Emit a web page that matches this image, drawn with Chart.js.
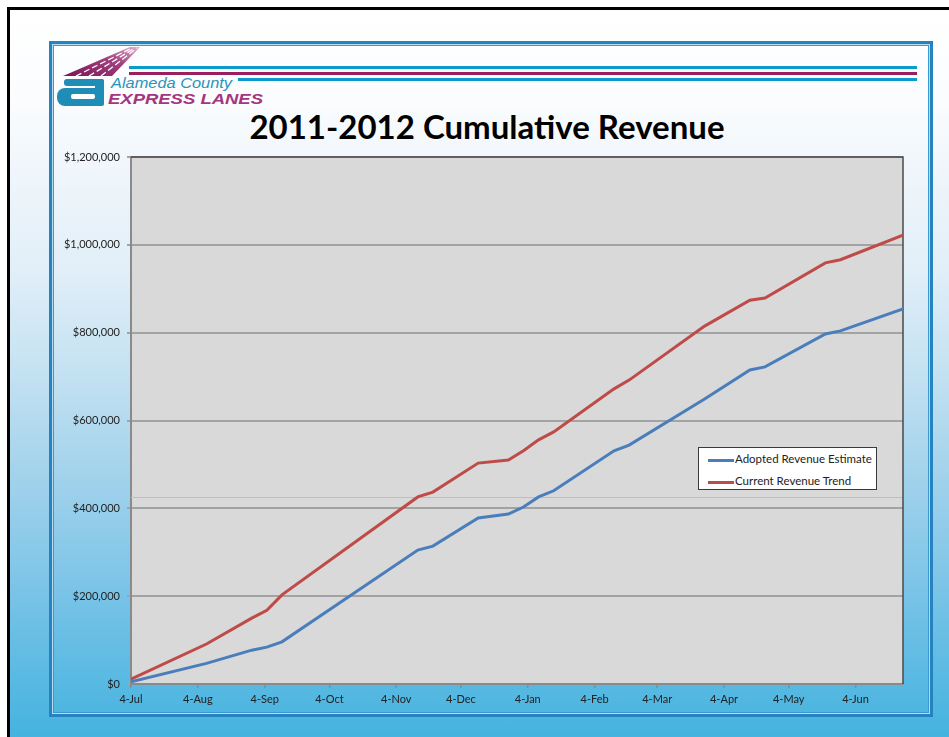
<!DOCTYPE html>
<html>
<head>
<meta charset="utf-8">
<title>2011-2012 Cumulative Revenue</title>
<script src="https://cdn.jsdelivr.net/npm/chart.js@4.4.1/dist/chart.umd.min.js"></script>
<style>
  html, body { margin: 0; padding: 0; background: #fff; }
  body { width: 949px; height: 737px; overflow: hidden; position: relative; font-family: Lato, "Open Sans", sans-serif; }
  #slide {
    position: absolute; left: 7px; top: 7px; width: 980px; height: 780px;
    border-left: 3px solid #000; border-top: 3px solid #000;
    background: linear-gradient(to bottom, #ffffff 0%, #fafcfe 12%, #f0f6fb 20%, #e2eff8 33%, #c5e2f2 46%, #a4d3ec 59%, #82c6e8 72%, #6cbfe5 79%, #3db1de 96%, #3bb0dd 100%);
  }
  #box {
    position: absolute; left: 49px; top: 41px; width: 878px; height: 670px;
    border: 3px solid #2683c0;
    box-shadow: inset 0 0 0 1px #b5dcf0, inset 0 0 0 2px #3d9ad0;
  }
  #deco { position: absolute; left: 0; top: 0; }
  #title {
    position: absolute; left: 0; top: 106px; width: 974px; text-align: center;
    font-family: Lato, sans-serif; font-weight: bold; font-size: 33px; line-height: 40px; color: #000;
  }
  #chartWrap { position: absolute; left: 50px; top: 140px; width: 874px; height: 575px; }
  #legend {
    position: absolute; left: 698px; top: 447px; width: 177px; height: 41px;
    background: #fff; border: 1px solid #3a3a3a; font-size: 11.5px; color: #222;
  }
  #legend .row { position: absolute; left: 9px; height: 14px; line-height: 14px; white-space: nowrap; }
  #legend .swatch { display: inline-block; width: 26px; height: 3px; vertical-align: middle; margin-right: 1px; }
</style>
</head>
<body>
<div id="slide"></div>
<div id="box"></div>
<svg id="deco" width="949" height="120" xmlns="http://www.w3.org/2000/svg">
  <defs>
    <linearGradient id="streak" x1="0" y1="1" x2="1" y2="0">
      <stop offset="0" stop-color="#7a1657"/>
      <stop offset="0.6" stop-color="#a3417f"/>
      <stop offset="1" stop-color="#e0b3d0"/>
    </linearGradient>
  </defs>
  <!-- header rules -->
  <rect x="129" y="66" width="788" height="3" fill="#0a9acb"/>
  <rect x="129" y="72" width="788" height="3" fill="#9a1f5f"/>
  <rect x="238" y="78" width="679" height="3" fill="#0a9acb"/>
  <!-- logo streaks -->
  <polygon points="63,76 112,76 140,47 130,47" fill="url(#streak)"/>
  <line x1="76" y1="76" x2="132" y2="48" stroke="#fff" stroke-width="1.3" stroke-dasharray="6,3"/>
  <line x1="89" y1="76" x2="135" y2="48" stroke="#fff" stroke-width="1.3" stroke-dasharray="6,3"/>
  <line x1="101" y1="76" x2="137" y2="48" stroke="#fff" stroke-width="1.3" stroke-dasharray="6,3"/>
  <!-- logo "a" -->
  <g fill="#1f8db6">
    <rect x="64" y="79" width="40" height="7" rx="3"/>
    <rect x="95" y="79" width="9" height="27" rx="2"/>
    <rect x="57" y="88" width="47" height="18" rx="8"/>
  </g>
  <rect x="71" y="94" width="24" height="5" rx="2" fill="#fff"/>
  <text x="111" y="87.5" font-family="Liberation Sans, Arial, sans-serif" font-style="italic" font-size="14" fill="#2a93bb" textLength="121" lengthAdjust="spacingAndGlyphs">Alameda County</text>
  <text x="108" y="104" font-family="Liberation Sans, Arial, sans-serif" font-style="italic" font-weight="bold" font-size="14" fill="#a4357f" textLength="155" lengthAdjust="spacingAndGlyphs">EXPRESS LANES</text>
</svg>
<div id="title">2011-2012 Cumulative Revenue</div>
<div id="chartWrap"><canvas id="revenueChart"></canvas></div>
<div id="legend"></div>
<script>
// Data (days after 4-Jul-2011, cumulative dollars)
const pointDays = [0, 35, 56, 63, 70, 133, 140, 161, 175, 182, 189, 196, 224, 231, 266, 287, 294, 322, 329, 358];
const adoptedEstimate = [5000, 47000, 77000, 84000, 96000, 305000, 314000, 378000, 387000, 403000, 426000, 440000, 531000, 544000, 649000, 715000, 722000, 797000, 804000, 854000];
const currentTrend = [11000, 91000, 150000, 168000, 203000, 426000, 437000, 503000, 510000, 531000, 556000, 574000, 672000, 692000, 815000, 874000, 879000, 959000, 966000, 1022000];

const monthDays = [0, 31, 62, 92, 123, 153, 184, 215, 244, 275, 305, 336];
const monthLabels = ['4-Jul', '4-Aug', '4-Sep', '4-Oct', '4-Nov', '4-Dec', '4-Jan', '4-Feb', '4-Mar', '4-Apr', '4-May', '4-Jun'];

const seriesNames = ['Adopted Revenue Estimate', 'Current Revenue Trend'];
const seriesColors = ['#4a7ebb', '#be4b48'];

const toPoints = vals => pointDays.map((d, i) => ({ x: d, y: vals[i] }));

// plot area fill + frame
const plotFrame = {
    id: 'plotFrame',
    beforeDraw(chart) {
        const { ctx, chartArea: a } = chart;
        ctx.save();
        ctx.fillStyle = '#d9d9d9';
        ctx.fillRect(a.left, a.top, a.right - a.left, a.bottom - a.top);
        ctx.restore();
    },
    beforeDatasetsDraw(chart) {
        const { ctx, chartArea: a, scales } = chart;
        ctx.save();
        // faint rule from the slide running behind the chart
        const yy = Math.round(scales.y.getPixelForValue(426000)) + 0.5;
        ctx.strokeStyle = '#93cbe8';
        ctx.lineWidth = 1;
        ctx.beginPath();
        ctx.moveTo(a.left, yy);
        ctx.lineTo(a.right, yy);
        ctx.stroke();
        // top / right border
        ctx.strokeStyle = '#4a4a4a';
        ctx.lineWidth = 1.5;
        ctx.beginPath();
        ctx.moveTo(a.left, a.top);
        ctx.lineTo(a.right, a.top);
        ctx.lineTo(a.right, a.bottom);
        ctx.stroke();
        ctx.restore();
    }
};

const chart = new Chart(document.getElementById('revenueChart'), {
    type: 'line',
    data: {
        datasets: [
            {
                label: seriesNames[0],
                data: toPoints(adoptedEstimate),
                borderColor: seriesColors[0],
                backgroundColor: seriesColors[0],
                borderWidth: 3,
                pointRadius: 0,
                tension: 0
            },
            {
                label: seriesNames[1],
                data: toPoints(currentTrend),
                borderColor: seriesColors[1],
                backgroundColor: seriesColors[1],
                borderWidth: 3,
                pointRadius: 0,
                tension: 0
            }
        ]
    },
    options: {
        responsive: true,
        maintainAspectRatio: false,
        animation: false,
        layout: { padding: { left: 0, right: 21, top: 17, bottom: 0 } },
        plugins: {
            legend: { display: false },
            tooltip: { enabled: false },
            title: { display: false }
        },
        scales: {
            x: {
                type: 'linear',
                min: 0,
                max: 358,
                afterBuildTicks: scale => { scale.ticks = monthDays.map(v => ({ value: v })); },
                afterFit: scale => { scale.height = 31; },
                ticks: {
                    autoSkip: false,
                    maxRotation: 0,
                    padding: 5,
                    color: '#222',
                    font: { family: 'Lato', size: 11 },
                    callback: v => monthLabels[monthDays.indexOf(v)]
                },
                grid: { drawOnChartArea: false, tickLength: 4, color: '#8a8a8a', lineWidth: 1.5 },
                border: { color: '#8a8a8a', width: 2 }
            },
            y: {
                min: 0,
                max: 1200000,
                afterFit: scale => { scale.width = 81; },
                ticks: {
                    stepSize: 200000,
                    padding: 7,
                    color: '#222',
                    font: { family: 'Lato', size: 11 },
                    callback: v => '$' + v.toLocaleString('en-US')
                },
                grid: { color: '#a3a3a3', lineWidth: 2, tickLength: 4 },
                border: { color: '#8a8a8a', width: 2 }
            }
        }
    },
    plugins: [plotFrame]
});

// legend box built from the datasets
const legendEl = document.getElementById('legend');
chart.data.datasets.forEach((ds, i) => {
    const row = document.createElement('div');
    row.className = 'row';
    row.style.top = (i === 0 ? 4 : 26) + 'px';
    row.innerHTML = '<span class="swatch" style="background:' + ds.borderColor + '"></span>' + ds.label;
    legendEl.appendChild(row);
});
</script>
</body>
</html>
